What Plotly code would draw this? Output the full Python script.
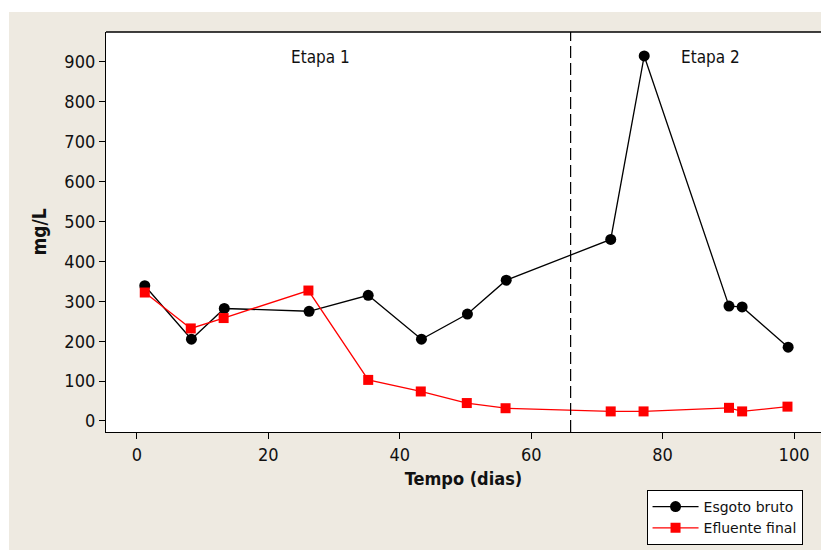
import plotly.graph_objects as go

# Data
esgoto_x = [1.2, 8.3, 13.3, 26.2, 35.2, 43.3, 50.3, 56.2, 72.1, 77.2, 90.1, 92.1, 99.1]
esgoto_y = [339, 205, 282, 275, 315, 205, 268, 353, 455, 915, 288, 286, 185]
efluente_x = [1.2, 8.2, 13.2, 26.1, 35.2, 43.2, 50.2, 56.1, 72.1, 77.1, 90.1, 92.1, 99.0]
efluente_y = [322, 232, 258, 327, 103, 74, 45, 32, 24, 24, 33, 24, 36]
x_ticks = [0, 20, 40, 60, 80, 100]
y_ticks = [0, 100, 200, 300, 400, 500, 600, 700, 800, 900]
stage_split = 66.0
stage_labels = ["Etapa 1", "Etapa 2"]
stage_label_x = [27.9, 87.3]
stage_label_y = 912

FONT = "DejaVu Sans Condensed, DejaVu Sans, sans-serif"
BEIGE = "#eeeae1"

fig = go.Figure()
fig.add_trace(go.Scatter(
    x=esgoto_x, y=esgoto_y, mode="lines+markers", name="Esgoto bruto",
    line=dict(color="black", width=1.3),
    marker=dict(color="black", size=11, symbol="circle"),
))
fig.add_trace(go.Scatter(
    x=efluente_x, y=efluente_y, mode="lines+markers", name="Efluente final",
    line=dict(color="#ff0000", width=1.3),
    marker=dict(color="#ff0000", size=10, symbol="square"),
))

# background panels
fig.add_shape(type="rect", xref="paper", yref="paper",
              x0=-0.1357, x1=1.0, y0=-0.295, y1=1.05,
              fillcolor=BEIGE, line=dict(width=0), layer="below")
fig.add_shape(type="rect", xref="paper", yref="paper",
              x0=0, x1=1.0, y0=0, y1=1,
              fillcolor="white", line=dict(width=0), layer="below")
# top border
fig.add_shape(type="line", xref="paper", yref="paper",
              x0=0, x1=1, y0=1, y1=1, line=dict(color="black", width=1.3))
# stage divider
fig.add_shape(type="line", xref="x", yref="paper",
              x0=stage_split, x1=stage_split, y0=0, y1=1,
              line=dict(color="black", width=1.2, dash="12px,5px"))

for lbl, lx in zip(stage_labels, stage_label_x):
    fig.add_annotation(x=lx, y=stage_label_y, xref="x", yref="y", text=lbl,
                       showarrow=False, font=dict(family=FONT, size=17, color="#111"))

fig.update_layout(
    width=821, height=553,
    margin=dict(l=106, r=0, t=32, b=121),
    paper_bgcolor="white", plot_bgcolor="white",
    font=dict(family=FONT, size=17, color="#111"),
    showlegend=True,
    legend=dict(
        x=0.756, y=-0.145, xanchor="left", yanchor="top",
        bgcolor="white", bordercolor="black", borderwidth=1,
        font=dict(family="DejaVu Sans, sans-serif", size=14, color="#111"),
        tracegroupgap=0, itemwidth=46,
    ),
)
fig.update_xaxes(
    range=[-4.7, 104.1], tickvals=x_ticks, showgrid=False, zeroline=False,
    showline=True, linecolor="black", linewidth=1.3,
    ticks="outside", ticklen=6, tickcolor="black", tickwidth=1,
    tickfont=dict(family=FONT, size=18, color="#111"),
    title=dict(text="<b>Tempo (dias)</b>", font=dict(family=FONT, size=18, color="#111"), standoff=8),
)
fig.update_yaxes(
    range=[-27.6, 975], tickvals=y_ticks, showgrid=False, zeroline=False,
    showline=True, linecolor="black", linewidth=1.3,
    ticks="outside", ticklen=6, tickcolor="black", tickwidth=1,
    tickfont=dict(family=FONT, size=18, color="#111"),
    title=dict(text="<b>mg/L</b>", font=dict(family=FONT, size=19, color="#111"), standoff=12),
)

fig.write_html("out.html", config={"displayModeBar": False},
               post_script="document.body.style.margin='0';")
